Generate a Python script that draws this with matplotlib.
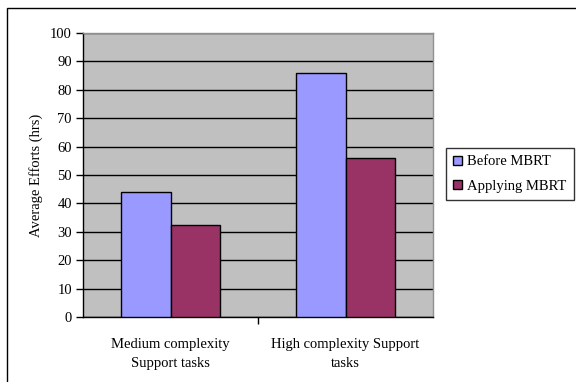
import matplotlib
matplotlib.use("Agg")
import matplotlib.pyplot as plt
from matplotlib.patches import Rectangle
import numpy as np

categories = ["Medium complexity\nSupport tasks", "High complexity Support\ntasks"]
series_names = ["Before MBRT", "Applying MBRT"]
before_mbrt = [44, 86]
applying_mbrt = [32.5, 56]
y_ticks = [0, 10, 20, 30, 40, 50, 60, 70, 80, 90, 100]

plt.rcParams["font.family"] = ["Liberation Serif", "DejaVu Serif"]
FS = 10.5

W, H = 576, 382
fig = plt.figure(figsize=(W / 100, H / 100), dpi=100)
fig.patch.set_facecolor("white")

# outer chart frame
fig.add_artist(Rectangle((7 / W, -0.05), 1.0, (1 - 8 / H) + 0.05,
                         transform=fig.transFigure, fill=False,
                         edgecolor="black", linewidth=1.0))

ax = fig.add_axes([83 / W, 1 - 317 / H, 350 / W, 284 / H])
ax.set_facecolor("#C0C0C0")

x = np.arange(len(categories))
bw = 0.283
ax.bar(x - bw / 2, before_mbrt, bw, color="#9999FF", edgecolor="black",
       linewidth=1.0, label=series_names[0], zorder=3)
ax.bar(x + bw / 2, applying_mbrt, bw, color="#993366", edgecolor="black",
       linewidth=1.0, label=series_names[1], zorder=3)

ax.set_xlim(-0.5, 1.5)
ax.set_ylim(0, 100)
ax.set_yticks(y_ticks)
ax.yaxis.grid(True, color="black", linewidth=1.0, zorder=1)
ax.set_axisbelow(True)

ax.set_xticks(x)
ax.set_xticklabels(categories, fontsize=FS, linespacing=1.6)
ax.tick_params(axis="x", length=0, pad=15)
ax.set_xticks([0.5], minor=True)
ax.tick_params(axis="x", which="minor", length=5, width=1, direction="out")
ax.tick_params(axis="y", length=5, width=1, direction="out", labelsize=FS, pad=3)

for side in ["top", "right"]:
    ax.spines[side].set_color("#909090")
    ax.spines[side].set_linewidth(1.0)
for side in ["left", "bottom"]:
    ax.spines[side].set_color("black")
    ax.spines[side].set_linewidth(1.0)

ax.set_ylabel("Average Efforts (hrs)", fontsize=FS, labelpad=5)

leg = fig.legend(loc="upper left", bbox_to_anchor=(446 / W, 1 - 148 / H),
                 bbox_transform=fig.transFigure, fontsize=FS,
                 frameon=True, fancybox=False, handlelength=0.6,
                 handleheight=0.6, handletextpad=0.35, borderpad=0.5,
                 labelspacing=0.8, borderaxespad=0)
leg.get_frame().set_edgecolor("black")
leg.get_frame().set_linewidth(1.0)

fig.savefig("out.png", dpi=100)
